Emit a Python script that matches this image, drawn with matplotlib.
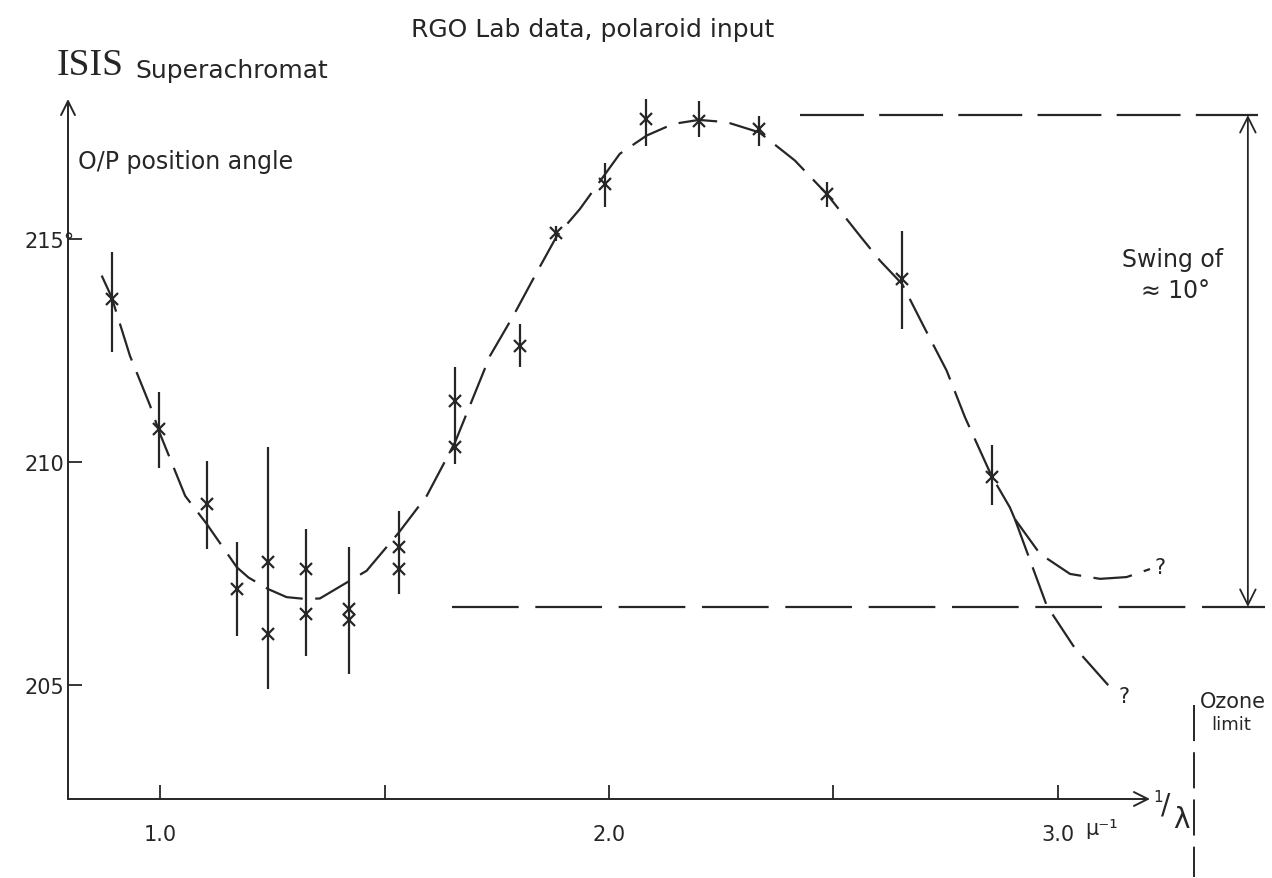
import numpy as np
import matplotlib
matplotlib.use("Agg")
import matplotlib.pyplot as plt

plt.rcParams['font.family'] = ['DejaVu Sans']
plt.rcParams['lines.scale_dashes'] = False

ink = '#262626'

# measured points: error bar positions and extents (1/lambda in micron^-1, degrees)
bar_x = [0.892, 0.997, 1.104, 1.171, 1.240, 1.324, 1.421, 1.532, 1.657,
         1.802, 1.883, 1.990, 2.082, 2.200, 2.334, 2.485, 2.653, 2.852]
bar_lo = [212.47, 209.87, 208.04, 206.10, 204.90, 205.65, 205.25, 207.04, 209.96,
          212.13, 214.96, 215.72, 217.09, 217.28, 217.09, 215.72, 212.98, 209.04]
bar_hi = [214.71, 211.57, 210.03, 208.20, 210.34, 208.50, 208.09, 208.90, 212.13,
          213.10, 215.30, 216.70, 218.18, 218.10, 217.76, 216.28, 215.19, 210.37]

# individual readings (crosses)
cross_x = [0.892, 0.997, 1.104, 1.171, 1.240, 1.240, 1.324, 1.324, 1.421, 1.421,
           1.532, 1.532, 1.657, 1.657, 1.802, 1.883, 1.990, 2.082, 2.200, 2.334,
           2.485, 2.653, 2.852]
cross_y = [213.65, 210.74, 209.06, 207.15, 207.76, 206.14, 207.60, 206.60, 206.70, 206.45,
           208.09, 207.60, 211.37, 210.34, 212.60, 215.13, 216.23, 217.69, 217.65, 217.47,
           216.00, 214.10, 209.66]

# hand drawn fit curve
fit_x = [0.870, 0.892, 0.933, 0.978, 1.000, 1.056, 1.104, 1.171, 1.197, 1.241, 1.282,
         1.323, 1.356, 1.423, 1.460, 1.532, 1.594, 1.657, 1.735, 1.787, 1.839, 1.884,
         1.935, 1.986, 2.024, 2.084, 2.143, 2.200, 2.262, 2.335, 2.414, 2.485, 2.559,
         2.604, 2.653, 2.700, 2.752, 2.793, 2.852, 2.893, 2.904]
fit_y = [214.18, 213.70, 212.38, 211.26, 210.63, 209.24, 208.61, 207.64, 207.41, 207.15, 206.97,
         206.93, 206.94, 207.34, 207.56, 208.42, 209.24, 210.44, 212.38, 213.28, 214.25, 215.07,
         215.67, 216.38, 216.91, 217.32, 217.58, 217.67, 217.62, 217.39, 216.76, 216.01, 215.07,
         214.51, 213.99, 213.06, 212.05, 211.00, 209.69, 208.98, 208.72]
upper_x = [2.904, 2.960, 3.027, 3.094, 3.153, 3.205]
upper_y = [208.72, 207.94, 207.49, 207.38, 207.42, 207.60]
lower_x = [2.904, 2.945, 2.975, 3.034, 3.123]
lower_y = [208.72, 207.60, 206.78, 205.88, 204.87]

swing_top = 217.78
swing_bottom = 206.75
ozone_x = 3.303

fig = plt.figure(figsize=(12.72, 8.79), dpi=100)
ax = fig.add_axes([68 / 1272, 79 / 879, 1082 / 1272, 700 / 879])
ax.set_xlim(0.795, 3.205)
ax.set_ylim(202.444, 218.139)
for s in ax.spines.values():
    s.set_visible(False)

# axes with arrow heads
ax.annotate('', xy=(0, 1), xytext=(0, 0), xycoords='axes fraction',
            arrowprops=dict(arrowstyle='->', lw=1.4, color=ink, mutation_scale=25, shrinkA=0, shrinkB=0))
ax.annotate('', xy=(1, 0), xytext=(0, 0), xycoords='axes fraction',
            arrowprops=dict(arrowstyle='->', lw=1.4, color=ink, mutation_scale=25, shrinkA=0, shrinkB=0))

ax.set_xticks([1.0, 1.5, 2.0, 2.5, 3.0])
ax.set_xticklabels(['1.0', '', '2.0', '', '3.0'])
ax.set_yticks([205, 210, 215])
ax.set_yticklabels(['205', '210', '215°'])
ax.tick_params(direction='in', length=10, width=1.3, color=ink, labelcolor=ink, labelsize=15)
ax.tick_params(axis='x', pad=18)
ax.tick_params(axis='y', pad=31)
for lab in ax.get_yticklabels():
    lab.set_horizontalalignment('left')

# data
ax.vlines(bar_x, bar_lo, bar_hi, color=ink, lw=1.6)
ax.plot(cross_x, cross_y, 'x', color=ink, ms=9, mew=1.6)

ax.plot(fit_x, fit_y, color=ink, lw=1.6, dashes=(28, 9))
ax.plot(upper_x, upper_y, color=ink, lw=1.6, dashes=(28, 9), clip_on=False)
ax.plot(lower_x, lower_y, color=ink, lw=1.6, dashes=(28, 9), clip_on=False)
ax.text(3.214, 207.65, '?', fontsize=15, color=ink, va='center')
ax.text(3.135, 204.75, '?', fontsize=15, color=ink, va='center')

# swing markers
ax.plot([2.425, 3.445], [swing_top, swing_top], color=ink, lw=1.6, dashes=(46, 11), clip_on=False)
ax.plot([1.650, 3.461], [swing_bottom, swing_bottom], color=ink, lw=1.6, dashes=(48, 12), clip_on=False)
ax.annotate('', xy=(3.423, swing_top), xytext=(3.423, swing_bottom),
            arrowprops=dict(arrowstyle='<->', lw=1.3, color=ink, mutation_scale=28, shrinkA=0, shrinkB=0),
            annotation_clip=False)
ax.text(3.256, 214.55, 'Swing of', fontsize=17, color=ink, ha='center', va='center')
ax.text(3.262, 213.85, '≈ 10°', fontsize=17, color=ink, ha='center', va='center')

# ozone limit
ax.plot([ozone_x, ozone_x], [204.55, 200.70], color=ink, lw=1.4, dashes=(26, 8), clip_on=False)
ax.text(3.316, 204.64, 'Ozone', fontsize=15, color=ink, va='center')
ax.text(3.385, 204.12, 'limit', fontsize=13, color=ink, ha='center', va='center')

# axis names
ax.text(3.223, 202.51, '1', fontsize=11, color=ink, ha='center', va='center')
ax.text(3.240, 202.31, '/', fontsize=20, color=ink, ha='center', va='center')
ax.text(3.274, 202.00, 'λ', fontsize=20, color=ink, ha='center', va='center')
ax.text(3.098, 201.80, 'μ⁻¹', fontsize=15, color=ink, ha='center', va='center')

fig.text(593 / 1272, 1 - 30 / 879, 'RGO Lab data, polaroid input', fontsize=18, color=ink,
         ha='center', va='center')
fig.text(57 / 1272, 1 - 66 / 879, 'ISIS', fontsize=27, color=ink, va='center',
         family='Liberation Serif')
fig.text(135 / 1272, 1 - 71 / 879, 'Superachromat', fontsize=18, color=ink, va='center')
fig.text(78 / 1272, 1 - 162 / 879, 'O/P position angle', fontsize=17, color=ink, va='center')

fig.savefig('out.png', dpi=100)
